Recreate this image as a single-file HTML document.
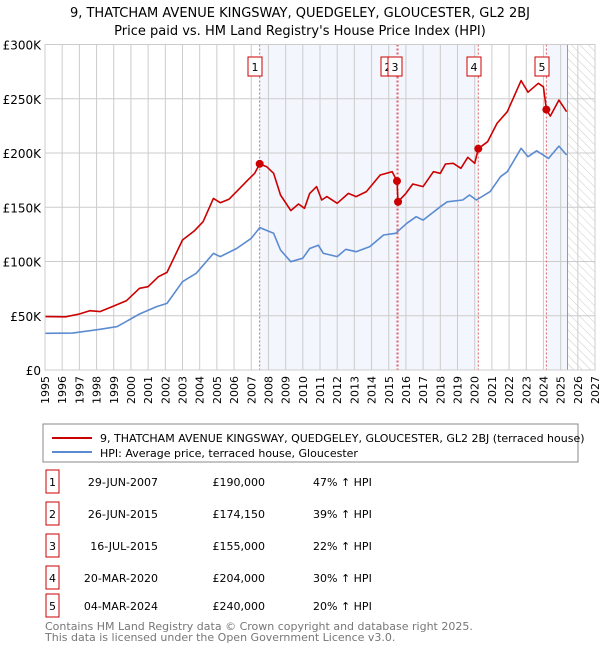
<!DOCTYPE html>
<html><head><meta charset="utf-8"><style>
body{margin:0;background:#fff;}
svg{display:block;font-family:"DejaVu Sans","Liberation Sans",sans-serif;}
</style></head><body>
<svg id="chart" width="600" height="650" viewBox="0 0 600 650">
<defs><pattern id="hatch" width="6" height="6" patternUnits="userSpaceOnUse" patternTransform="rotate(-45)"><line x1="0" y1="0" x2="0" y2="6" stroke="#ccc" stroke-width="1"/></pattern></defs>
<text x="300" y="17" text-anchor="middle" font-size="13">9, THATCHAM AVENUE KINGSWAY, QUEDGELEY, GLOUCESTER, GL2 2BJ</text>
<text x="300" y="35" text-anchor="middle" font-size="13">Price paid vs. HM Land Registry's House Price Index (HPI)</text>
<g id="plot"></g>
<rect x="43" y="424" width="535" height="38" fill="#fff" stroke="#888"/>
<line x1="52" y1="438" x2="92" y2="438" stroke="#cc0000" stroke-width="2"/>
<text x="100" y="442" font-size="11">9, THATCHAM AVENUE KINGSWAY, QUEDGELEY, GLOUCESTER, GL2 2BJ (terraced house)</text>
<line x1="52" y1="452" x2="92" y2="452" stroke="#5b8bd0" stroke-width="2"/>
<text x="100" y="457" font-size="11">HPI: Average price, terraced house, Gloucester</text>
<g id="table" font-size="11"></g>
<text x="45" y="630" font-size="11" fill="#777">Contains HM Land Registry data © Crown copyright and database right 2025.</text>
<text x="45" y="641" font-size="11" fill="#777">This data is licensed under the Open Government Licence v3.0.</text>
</svg>
<script>
const hpiYears=[1995,1996.6,1998.2,1999.2,2000.5,2001.5,2002.1,2003,2003.8,2004.8,2005.2,2006.15,2007,2007.5,2008.3,2008.7,2009.3,2010,2010.4,2010.9,2011.2,2012,2012.5,2013.1,2013.9,2014.7,2015.4,2016.05,2016.6,2017,2018,2018.4,2019.3,2019.7,2020.1,2020.9,2021.5,2021.9,2022.7,2023.1,2023.6,2024.3,2024.9,2025.35];
const hpiValues=[33.8,34,37.5,40,51.6,58.4,61.4,81.4,89.1,107.5,104.5,112,121.4,131.2,126,110.6,99.8,103,112,115,107.5,104.5,111.2,109,113.7,124.4,126,135.2,141.3,138.2,150.5,155,156.7,161.3,156.7,164.4,178.2,182.8,204.3,196.6,202,195,206.4,198.2];
const priceYears=[1995,1996.2,1997,1997.6,1998.2,1999,1999.75,2000.5,2001,2001.6,2002.1,2003,2003.7,2004.2,2004.8,2005.2,2005.7,2006.15,2006.8,2007.2,2007.49,2007.9,2008.3,2008.7,2009.3,2009.75,2010.1,2010.4,2010.8,2011.1,2011.4,2012,2012.65,2013.1,2013.7,2014.5,2015.2,2015.48,2015.54,2016,2016.4,2017,2017.6,2018,2018.3,2018.75,2019.2,2019.6,2020,2020.21,2020.75,2021.3,2021.9,2022.7,2023.1,2023.7,2024.0,2024.17,2024.4,2024.9,2025.35];
const priceValues=[49.2,49,51.6,54.7,53.8,59,64,75.3,76.8,86,90,119.8,128.4,136.7,158.2,154.2,157.3,164.4,175,181.3,190,187.4,181.3,161.3,146.9,153,149,162.8,169,156.7,159.8,153.6,162.8,159.8,164.4,179.7,182.8,174.15,155,162.8,171.4,169,182.8,181.3,189.9,190.5,185.9,196,190.5,204,210.4,227.3,238.1,266.7,256,264.2,261,240,234,248.8,238.1];
const saleLabels=["1","2","3","4","5"];
const saleYears=[2007.49,2015.48,2015.54,2020.21,2024.17];
const saleValues=[190,174.15,155,204,240];
const saleDates=["29-JUN-2007","26-JUN-2015","16-JUL-2015","20-MAR-2020","04-MAR-2024"];
const salePrices=["£190,000","£174,150","£155,000","£204,000","£240,000"];
const salePct=["47% ↑ HPI","39% ↑ HPI","22% ↑ HPI","30% ↑ HPI","20% ↑ HPI"];
const yTicks=[0,50,100,150,200,250,300];
const yTickLabels=["£0","£50K","£100K","£150K","£200K","£250K","£300K"];
const xTicks=[1995,1996,1997,1998,1999,2000,2001,2002,2003,2004,2005,2006,2007,2008,2009,2010,2011,2012,2013,2014,2015,2016,2017,2018,2019,2020,2021,2022,2023,2024,2025,2026,2027];
const NOW=2025.4;
const NS="http://www.w3.org/2000/svg";
const L=45,R=595,T=44.5,B=370,X0=1995,X1=2027,YMAX=300;
const xs=y=>L+(y-X0)/(X1-X0)*(R-L);
const ys=v=>B-v/YMAX*(B-T);
const plot=document.getElementById('plot');
function mk(tag,attrs,parent){const e=document.createElementNS(NS,tag);for(const k in attrs)e.setAttribute(k,attrs[k]);(parent||plot).appendChild(e);return e;}
const bands=[[0,1],[2,3]];
bands.forEach(b=>{const r=mk('rect',{x:xs(saleYears[b[0]]),y:T,width:xs(saleYears[b[1]])-xs(saleYears[b[0]]),height:B-T,fill:'#f3f6fd'});

});
const rb=mk('rect',{x:xs(saleYears[4]),y:T,width:xs(NOW)-xs(saleYears[4]),height:B-T,fill:'#f3f6fd'});


const hz=mk('rect',{x:xs(NOW),y:T,width:R-xs(NOW),height:B-T,fill:'url(#hatch)'});


xTicks.forEach(t=>{const l=mk('line',{x1:xs(t),x2:xs(t),y1:T,y2:B,stroke:'#ccc','stroke-width':1});


const px=xs(t)+4,py=376;
const tx=mk('text',{x:px,y:py,'font-size':11,'text-anchor':'end',transform:'rotate(-90 '+px+' '+py+')'});tx.textContent=t;

});
yTicks.forEach((t,i)=>{const l=mk('line',{x1:L,x2:R,y1:ys(t),y2:ys(t),stroke:'#ccc','stroke-width':1});


const tx=mk('text',{x:41,y:ys(t)+5,'font-size':12,'text-anchor':'end'});tx.textContent=yTickLabels[i];

});
const nl=mk('line',{x1:xs(NOW),x2:xs(NOW),y1:T,y2:B,stroke:'#999','stroke-width':1});


saleYears.forEach((y,i)=>{const l=mk('line',{x1:xs(y),x2:xs(y),y1:T,y2:B,stroke:'#e06060','stroke-width':1,'stroke-dasharray':'2,2'});

});
function path(xa,va,col,name){const d=xa.map((y,i)=>(i?'L':'M')+xs(y).toFixed(1)+','+ys(va[i]).toFixed(1)).join('');
const p=mk('path',{d:d,fill:'none',stroke:col,'stroke-width':1.6,'stroke-linejoin':'round'});

}
path(hpiYears,hpiValues,'#5b8bd0','hpi-line');
path(priceYears,priceValues,'#cc0000','price-line');
saleYears.forEach((y,i)=>{const c=mk('circle',{cx:xs(y),cy:ys(saleValues[i]),r:4,fill:'#cc0000'});

});
const boxX=[255,388,395,474,542];
saleLabels.forEach((s,i)=>{const g=mk('g',{});


mk('rect',{x:boxX[i]-7,y:57,width:14,height:19,fill:'#fff',stroke:'#cc0000'},g);
const t=mk('text',{x:boxX[i],y:71,'font-size':11,'text-anchor':'middle'},g);t.textContent=s;});
mk('rect',{x:L,y:T,width:R-L,height:B-T,fill:'none',stroke:'#ccc'});
const tb=document.getElementById('table');
const rowY=[482,514,546,578,606];
saleLabels.forEach((s,i)=>{const g=mk('g',{},tb);


mk('rect',{x:46,y:rowY[i]-12,width:13,height:23,fill:'#fff',stroke:'#cc0000'},g);
let t=mk('text',{x:52.5,y:rowY[i]+4,'text-anchor':'middle'},g);t.textContent=s;
t=mk('text',{x:158,y:rowY[i]+4,'text-anchor':'end'},g);t.textContent=saleDates[i];
t=mk('text',{x:265,y:rowY[i]+4,'text-anchor':'end'},g);t.textContent=salePrices[i];
t=mk('text',{x:313,y:rowY[i]+4},g);t.textContent=salePct[i];});
</script>
</body></html>
